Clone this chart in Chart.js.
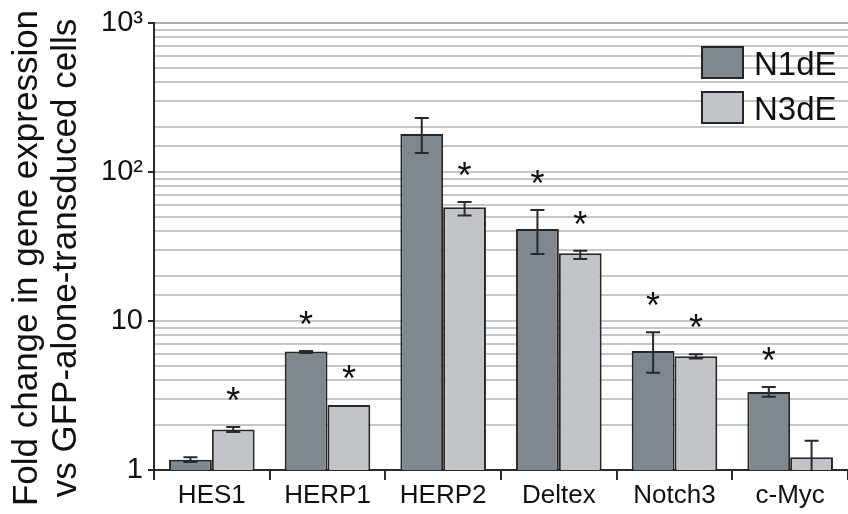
<!DOCTYPE html>
<html>
<head>
<meta charset="utf-8">
<script src="https://cdn.jsdelivr.net/npm/chart.js@4.4.1/dist/chart.umd.min.js"></script>
<style>
html, body { margin: 0; padding: 0; background: #fff; }
</style>
</head>
<body>
<canvas id="myChart" width="848" height="514"></canvas>
<script>
// values (fold change, log axis)
const categories = ['HES1', 'HERP1', 'HERP2', 'Deltex', 'Notch3', 'c-Myc'];
const seriesNames = ['N1dE', 'N3dE'];

const n1Values = [1.17, 6.25, 180, 41.5, 6.3, 3.34];
const n1Upper  = [1.22, 6.3, 230, 55.5, 8.4, 3.6];
const n1Lower  = [1.13, 6.1, 134, 28.2, 4.5, 3.1];
const n1Sig    = [false, true, false, true, true, true];

const n3Values = [1.87, 2.73, 58, 28.5, 5.8, 1.22];
const n3Upper  = [1.94, 2.73, 63, 29.6, 5.98, 1.57];
const n3Lower  = [1.80, 2.73, 51, 26.1, 5.6, 0.88];
const n3Sig    = [true, true, true, true, true, false];

const yTickLabels = { 1: '1', 10: '10', 100: '10\u00B2', 1000: '10\u00B3' };

const fontFamily = "'Liberation Sans', Arial, sans-serif";
const barColors = ['#7f888e', '#c1c4c9'];
const edgeColor = '#262626';

Chart.defaults.font.family = fontFamily;
Chart.defaults.color = '#111';

// error bars + asterisks
const errorBars = {
    id: 'errorBars',
    afterDatasetsDraw(chart) {
        const ctx = chart.ctx;
        const y = chart.scales.y;
        const area = chart.chartArea;
        const uppers = [n1Upper, n3Upper];
        const lowers = [n1Lower, n3Lower];
        const sigs = [n1Sig, n3Sig];
        ctx.save();
        ctx.strokeStyle = '#2a2a2a';
        ctx.lineWidth = 2;
        ctx.font = '36px ' + fontFamily;
        const m = ctx.measureText('*');
        const mid = (m.actualBoundingBoxAscent - m.actualBoundingBoxDescent) / 2;
        for (let d = 0; d < chart.data.datasets.length; d++) {
            const meta = chart.getDatasetMeta(d);
            meta.data.forEach(function(bar, i) {
                const x = bar.x;
                const top = y.getPixelForValue(uppers[d][i]);
                let bot = y.getPixelForValue(lowers[d][i]);
                if (bot > area.bottom) bot = area.bottom;
                if (uppers[d][i] !== lowers[d][i]) {
                    ctx.beginPath();
                    ctx.moveTo(x, top); ctx.lineTo(x, bot);
                    ctx.moveTo(x - 7, top); ctx.lineTo(x + 7, top);
                    if (bot < area.bottom) { ctx.moveTo(x - 7, bot); ctx.lineTo(x + 7, bot); }
                    ctx.stroke();
                }
                if (sigs[d][i]) {
                    ctx.fillStyle = '#111';
                    ctx.textAlign = 'center';
                    ctx.textBaseline = 'alphabetic';
                    ctx.fillText('*', x, Math.min(top, bar.y) - 33 + mid);
                }
            });
        }
        ctx.restore();
    }
};

// legend boxes in the upper right and the two-line y title
const extras = {
    id: 'extras',
    afterDraw(chart) {
        const ctx = chart.ctx;
        ctx.save();
        for (let d = 0; d < seriesNames.length; d++) {
            const by = 47 + d * 45;
            ctx.fillStyle = barColors[d];
            ctx.fillRect(702, by, 41, 31);
            ctx.strokeStyle = edgeColor;
            ctx.lineWidth = 2;
            ctx.strokeRect(702, by, 41, 31);
            ctx.fillStyle = '#111';
            ctx.font = '33px ' + fontFamily;
            ctx.textAlign = 'left';
            ctx.textBaseline = 'alphabetic';
            ctx.fillText(seriesNames[d], 754, by + 28);
        }
        ctx.font = '35px ' + fontFamily;
        ctx.textAlign = 'center';
        ctx.fillStyle = '#111';
        const lines = ['Fold change in gene expression', 'vs GFP-alone-transduced cells'];
        const baseX = [37, 76];
        for (let k = 0; k < lines.length; k++) {
            ctx.save();
            ctx.translate(baseX[k], 258);
            ctx.rotate(-Math.PI / 2);
            ctx.fillText(lines[k], 0, 0);
            ctx.restore();
        }
        ctx.restore();
    }
};

const data = {
    labels: categories,
    datasets: [
        { label: seriesNames[0], data: n1Values, backgroundColor: barColors[0], borderColor: edgeColor, borderWidth: 2 },
        { label: seriesNames[1], data: n3Values, backgroundColor: barColors[1], borderColor: edgeColor, borderWidth: 2 }
    ]
};

const isDecade = (v) => yTickLabels[v] !== undefined;

const config = {
    type: 'bar',
    data: data,
    options: {
        responsive: false,
        animation: false,
        categoryPercentage: 0.74,
        barPercentage: 1.0,
        layout: { padding: { top: 23, right: -4, bottom: 0, left: 0 } },
        plugins: { legend: { display: false }, tooltip: { enabled: false } },
        scales: {
            x: {
                grid: { display: true, drawOnChartArea: false, offset: true, tickLength: 10, tickColor: '#2a2a2a', lineWidth: 2 },
                border: { color: '#2a2a2a', width: 2 },
                ticks: { font: { size: 26 }, color: '#111', padding: 0 },
                afterFit: function(s) { s.height = 44; }
            },
            y: {
                type: 'logarithmic',
                min: 1,
                max: 1000,
                grid: {
                    color: function(c) { return c.tick && c.tick.value === 1000 ? '#a9adb2' : '#c4c8cc'; },
                    lineWidth: 2,
                    tickLength: 6,
                    tickColor: function(c) { return c.tick && isDecade(c.tick.value) ? '#2a2a2a' : 'rgba(0,0,0,0)'; }
                },
                border: { color: '#2a2a2a', width: 2 },
                ticks: {
                    autoSkip: false,
                    font: { size: 29 },
                    color: '#111',
                    padding: 5,
                    callback: function(v) { return isDecade(v) ? yTickLabels[v] : ''; }
                },
                afterFit: function(s) { s.width = 154; }
            }
        }
    },
    plugins: [errorBars, extras]
};

const my_chart = new Chart(document.getElementById('myChart'), config);
</script>
</body>
</html>
